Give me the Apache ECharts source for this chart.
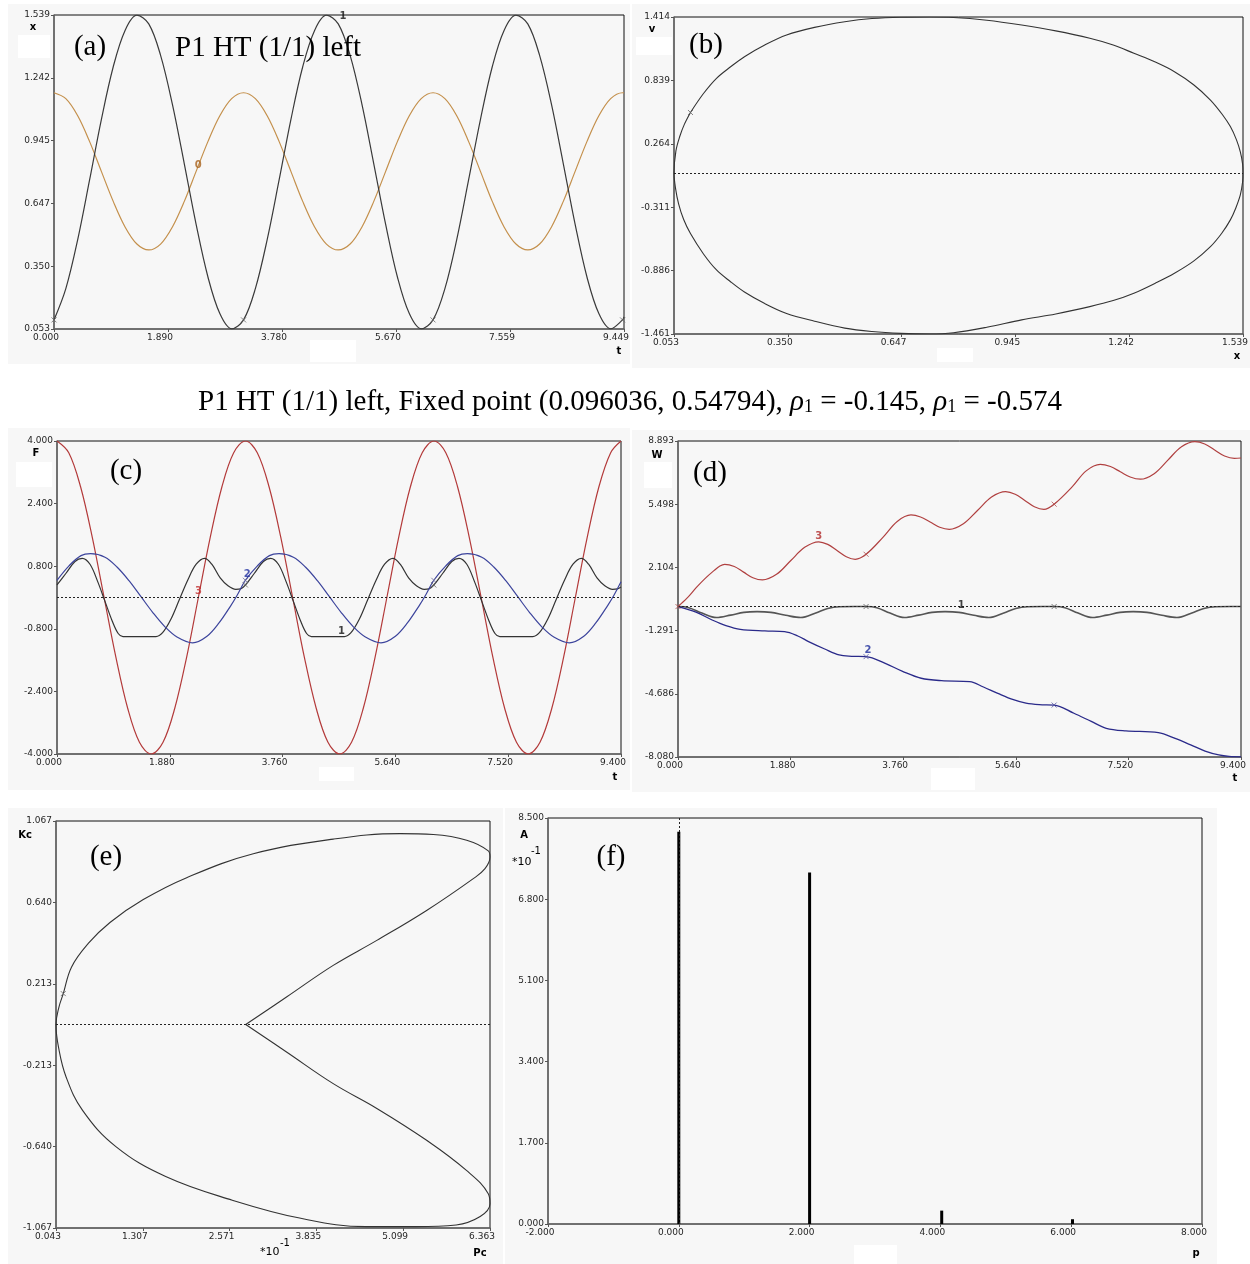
<!DOCTYPE html>
<html>
<head>
<meta charset="utf-8">
<script src="https://cdn.jsdelivr.net/npm/echarts@6/dist/echarts.min.js"></script>
<style>
  html, body { margin: 0; padding: 0; background: #ffffff; }
  #chart { width: 1250px; height: 1264px; }
</style>
</head>
<body>
<div id="chart"></div>
<script>
// ---------------- (a) displacement x(t) and excitation curve ----------------
const aT  = [0.000,0.196,0.393,0.589,0.785,0.982,1.178,1.374,1.571,1.767,1.963,2.160,2.356,2.553,2.749,2.945,
             3.142,3.338,3.534,3.731,3.927,4.123,4.320,4.516,4.712,4.909,5.105,5.301,5.498,5.694,5.890,6.087,
             6.283,6.480,6.676,6.872,7.069,7.265,7.461,7.658,7.854,8.050,8.247,8.443,8.639,8.836,9.032,9.228,
             9.425,9.449];
const aX  = [0.096,0.244,0.476,0.757,1.044,1.294,1.466,1.538,1.497,1.348,1.116,0.835,0.548,0.298,0.126,0.054,
             0.096,0.244,0.476,0.757,1.044,1.294,1.466,1.538,1.497,1.348,1.116,0.835,0.548,0.298,0.126,0.054,
             0.096,0.244,0.476,0.757,1.044,1.294,1.466,1.538,1.497,1.348,1.116,0.835,0.548,0.298,0.126,0.054,
             0.096,0.110];
const aT0 = [0.000,0.196,0.393,0.589,0.785,0.982,1.178,1.374,1.571,1.767,1.963,2.160,2.356,2.553,2.749,2.945,
             3.142,3.338,3.534,3.731,3.927,4.123,4.320,4.516,4.712,4.909,5.105,5.301,5.498,5.694,5.890,6.087,
             6.283,6.480,6.676,6.872,7.069,7.265,7.461,7.658,7.854,8.050,8.247,8.443,8.639,8.836,9.032,9.228,
             9.425,9.449];
const aX0 = [1.171,1.143,1.062,0.941,0.799,0.657,0.536,0.455,0.427,0.455,0.536,0.657,0.799,0.941,1.062,1.143,
             1.171,1.143,1.062,0.941,0.799,0.657,0.536,0.455,0.427,0.455,0.536,0.657,0.799,0.941,1.062,1.143,
             1.171,1.143,1.062,0.941,0.799,0.657,0.536,0.455,0.427,0.455,0.536,0.657,0.799,0.941,1.062,1.143,
             1.171,1.170];
const aSecT = [0.000, 3.142, 6.283, 9.425];
const aSecX = [0.096, 0.096, 0.096, 0.096];

// ---------------- (b) phase portrait v(x) ----------------
const bX = [0.096,0.130,0.164,0.200,0.237,0.290,0.347,0.420,0.499,0.570,0.646,0.720,0.783,0.870,0.961,1.050,1.139,1.200,1.254,1.310,1.360,1.410,1.454,1.485,1.506,1.522,1.532,1.538,1.539,
            1.538,1.532,1.520,1.506,1.484,1.454,1.410,1.360,1.310,1.254,1.200,1.139,1.050,0.961,0.870,0.783,0.720,0.646,0.570,0.499,0.420,0.347,0.290,0.237,0.200,0.164,0.130,0.096,0.078,0.065,0.057,0.053,
            0.058,0.068,0.080,0.096];
const bV = [0.548,0.720,0.858,0.960,1.054,1.160,1.251,1.320,1.371,1.400,1.412,1.414,1.410,1.385,1.341,1.288,1.221,1.160,1.085,1.005,0.918,0.800,0.661,0.530,0.420,0.300,0.190,0.080,0.000,
            -0.080,-0.200,-0.320,-0.426,-0.545,-0.669,-0.800,-0.910,-1.000,-1.091,-1.158,-1.213,-1.280,-1.333,-1.400,-1.450,-1.461,-1.455,-1.438,-1.408,-1.345,-1.275,-1.185,-1.080,-0.985,-0.880,-0.735,-0.550,-0.420,-0.280,-0.140,0.000,
            0.200,0.330,0.440,0.548];
const bFixed = [0.096036, 0.54794];

// ---------------- (c) forces F1, F2, F3 ----------------
const cT3 = [0.000,0.196,0.393,0.589,0.785,0.982,1.178,1.374,1.571,1.767,1.963,2.160,2.356,2.553,2.749,2.945,
             3.142,3.338,3.534,3.731,3.927,4.123,4.320,4.516,4.712,4.909,5.105,5.301,5.498,5.694,5.890,6.087,
             6.283,6.480,6.676,6.872,7.069,7.265,7.461,7.658,7.854,8.050,8.247,8.443,8.639,8.836,9.032,9.228,
             9.400];
const cF3 = [4.00,3.70,2.83,1.53,0.00,-1.53,-2.83,-3.70,-4.00,-3.70,-2.83,-1.53,0.00,1.53,2.83,3.70,
             4.00,3.70,2.83,1.53,0.00,-1.53,-2.83,-3.70,-4.00,-3.70,-2.83,-1.53,0.00,1.53,2.83,3.70,
             4.00,3.70,2.83,1.53,0.00,-1.53,-2.83,-3.70,-4.00,-3.70,-2.83,-1.53,0.00,1.53,2.83,3.70,
             4.00];
const cT2 = [0.00,0.20,0.40,0.56,0.80,1.00,1.20,1.40,1.60,1.80,2.00,2.26,2.50,2.70,2.90,3.00,
             3.14,3.34,3.54,3.70,3.94,4.14,4.34,4.54,4.74,4.94,5.14,5.40,5.64,5.84,6.04,6.14,
             6.28,6.48,6.68,6.84,7.08,7.28,7.48,7.68,7.88,8.08,8.28,8.54,8.78,8.98,9.18,9.28,9.40];
const cF2 = [0.44,0.81,1.07,1.12,1.03,0.78,0.43,0.02,-0.39,-0.75,-1.01,-1.16,-0.99,-0.65,-0.20,0.05,
             0.44,0.81,1.07,1.12,1.03,0.78,0.43,0.02,-0.39,-0.75,-1.01,-1.16,-0.99,-0.65,-0.20,0.05,
             0.44,0.81,1.07,1.12,1.03,0.78,0.43,0.02,-0.39,-0.75,-1.01,-1.16,-0.99,-0.65,-0.20,0.05,0.40];
const cT1 = [0.00,0.15,0.30,0.42,0.55,0.68,0.80,0.92,1.02,1.10,1.38,1.65,1.76,1.90,2.04,2.18,2.32,2.46,2.58,2.72,2.85,2.98,3.06,
             3.14,3.29,3.44,3.56,3.69,3.82,3.94,4.06,4.16,4.24,4.52,4.79,4.90,5.04,5.18,5.32,5.46,5.60,5.72,5.86,5.99,6.12,6.20,
             6.28,6.43,6.58,6.70,6.83,6.96,7.08,7.20,7.30,7.38,7.66,7.93,8.04,8.18,8.32,8.46,8.60,8.74,8.86,9.00,9.13,9.26,9.34,9.40];
const cF1 = [0.32,0.62,0.92,1.00,0.85,0.40,-0.10,-0.60,-0.92,-1.00,-1.00,-1.00,-0.90,-0.55,-0.05,0.45,0.85,1.00,0.85,0.50,0.30,0.21,0.22,
             0.32,0.62,0.92,1.00,0.85,0.40,-0.10,-0.60,-0.92,-1.00,-1.00,-1.00,-0.90,-0.55,-0.05,0.45,0.85,1.00,0.85,0.50,0.30,0.21,0.22,
             0.32,0.62,0.92,1.00,0.85,0.40,-0.10,-0.60,-0.92,-1.00,-1.00,-1.00,-0.90,-0.55,-0.05,0.45,0.85,1.00,0.85,0.50,0.30,0.21,0.22,0.27];
const cSecT  = [3.14, 6.28];
const cSecF2 = [0.44, 0.44];
const cSecF1 = [0.32, 0.32];

// ---------------- (d) work W1, W2, W3 ----------------
const dT3 = [0.00,0.15,0.30,0.45,0.60,0.70,0.78,0.94,1.095,1.25,1.41,1.645,1.88,2.115,2.35,2.50,2.655,2.81,2.96,3.14,
             3.425,3.66,3.89,4.05,4.21,4.37,4.53,4.765,5.00,5.235,5.47,5.63,5.79,5.95,6.11,6.28,
             6.58,6.815,7.05,7.22,7.385,7.55,7.72,7.95,8.175,8.40,8.63,8.795,8.96,9.125,9.29,9.40];
const dW3 = [0.00,0.45,1.00,1.50,1.93,2.18,2.27,2.15,1.85,1.55,1.43,1.73,2.46,3.18,3.48,3.34,3.01,2.68,2.54,2.81,
             3.73,4.57,4.92,4.81,4.54,4.26,4.15,4.45,5.16,5.88,6.17,6.03,5.70,5.36,5.22,5.50,
             6.43,7.29,7.64,7.52,7.24,6.96,6.84,7.14,7.85,8.57,8.86,8.73,8.41,8.09,7.96,7.98];
const dT1 = [0.00,0.18,0.40,0.64,0.88,1.10,1.32,1.55,1.80,2.05,2.30,2.50,2.70,2.95,
             3.14,3.32,3.54,3.78,4.02,4.24,4.46,4.69,4.94,5.19,5.44,5.64,5.84,6.09,
             6.28,6.46,6.68,6.92,7.16,7.38,7.60,7.83,8.08,8.33,8.58,8.78,8.98,9.23,9.40];
const dW1 = [0.00,-0.06,-0.35,-0.59,-0.46,-0.31,-0.27,-0.31,-0.47,-0.59,-0.34,-0.10,-0.01,0.00,
             0.00,-0.06,-0.35,-0.59,-0.46,-0.31,-0.27,-0.31,-0.47,-0.59,-0.34,-0.10,-0.01,0.00,
             0.00,-0.06,-0.35,-0.59,-0.46,-0.31,-0.27,-0.31,-0.47,-0.59,-0.34,-0.10,-0.01,0.00,0.00];
const dT2 = [0.00,0.30,0.57,0.80,1.04,1.45,1.78,2.00,2.18,2.45,2.69,2.90,3.14,3.46,3.75,4.06,4.40,4.87,5.10,5.34,5.60,5.81,6.03,6.28,6.61,6.90,7.15,7.48,8.02,8.30,8.56,8.80,9.03,9.20,9.40];
const dW2 = [0.00,-0.30,-0.72,-1.02,-1.22,-1.31,-1.35,-1.58,-1.88,-2.28,-2.60,-2.67,-2.69,-3.05,-3.48,-3.85,-3.98,-4.03,-4.32,-4.66,-5.00,-5.19,-5.27,-5.29,-5.73,-6.17,-6.54,-6.68,-6.77,-7.08,-7.43,-7.76,-7.97,-8.05,-8.07];
const dSecT  = [0.00, 3.14, 6.28];
const dSecW3 = [0.00, 2.81, 5.50];
const dSecW1 = [0.00, 0.00, 0.00];
const dSecW2 = [0.00, -2.69, -5.29];

// ---------------- (e) Kc versus Pc ----------------
const eP = [2.806,3.40,4.08,4.715,5.44,6.12,6.29,6.363,6.338,6.024,5.538,5.052,4.081,2.916,1.946,1.314,0.829,0.513,0.270,0.149,0.085,
            0.043,0.080,0.190,0.430,0.915,1.640,2.610,3.590,4.560,5.290,5.870,6.220,6.363,6.338,6.020,5.440,4.715,4.080,3.400,2.806];
const eK = [0.000,0.144,0.310,0.441,0.598,0.765,0.817,0.878,0.910,0.966,0.996,1.001,0.972,0.895,0.770,0.655,0.535,0.425,0.302,0.162,0.090,
            0.000,-0.120,-0.275,-0.450,-0.640,-0.797,-0.921,-1.015,-1.060,-1.060,-1.051,-1.007,-0.940,-0.888,-0.765,-0.607,-0.440,-0.310,-0.144,0.000];
const eMark = [0.149, 0.162];

// ---------------- (f) amplitude spectrum ----------------
const fP = [0.00, 2.00, 4.02, 6.02];
const fA = [8.21, 7.36, 0.28, 0.10];

// ---------------- tick labels ----------------
const aTicksX = ['0.000','1.890','3.780','5.670','7.559','9.449'];
const aTicksY = ['0.053','0.350','0.647','0.945','1.242','1.539'];
const bTicksX = ['0.053','0.350','0.647','0.945','1.242','1.539'];
const bTicksY = ['-1.461','-0.886','-0.311','0.264','0.839','1.414'];
const cTicksX = ['0.000','1.880','3.760','5.640','7.520','9.400'];
const cTicksY = ['-4.000','-2.400','-0.800','0.800','2.400','4.000'];
const dTicksX = ['0.000','1.880','3.760','5.640','7.520','9.400'];
const dTicksY = ['-8.080','-4.686','-1.291','2.104','5.498','8.893'];
const eTicksX = ['0.043','1.307','2.571','3.835','5.099','6.363'];
const eTicksY = ['-1.067','-0.640','-0.213','0.213','0.640','1.067'];
const fTicksX = ['-2.000','0.000','2.000','4.000','6.000','8.000'];
const fTicksY = ['0.000','1.700','3.400','5.100','6.800','8.500'];

// ---------------- helpers ----------------
const zip = (xs, ys) => xs.map((x, i) => [x, ys[i]]);

const grids = [
  { left: 54,  top: 15,  width: 570, height: 314 },
  { left: 674, top: 17,  width: 569, height: 317 },
  { left: 57,  top: 441, width: 564, height: 313 },
  { left: 678, top: 441, width: 563, height: 316 },
  { left: 56,  top: 821, width: 434, height: 407 },
  { left: 548, top: 818, width: 654, height: 406 }
].map(g => Object.assign(g, {
  show: true, borderColor: '#111', borderWidth: 1, backgroundColor: 'transparent',
  containLabel: false, outerBoundsMode: 'none'
}));

function axis(gi, ticks, isX) {
  const min = parseFloat(ticks[0]);
  const max = parseFloat(ticks[ticks.length - 1]);
  const step = (max - min) / (ticks.length - 1);
  return {
    type: 'value', gridIndex: gi, min: min, max: max, interval: step,
    axisLine: { show: true, onZero: false, lineStyle: { color: '#6b6b6b', width: 1.5 } },
    axisTick: { show: true, length: 3, inside: false, lineStyle: { color: '#555', width: 1 } },
    splitLine: { show: false },
    axisLabel: {
      show: true, fontFamily: 'DejaVu Sans', fontSize: 9, color: '#262626', margin: 4,
      hideOverlap: false,
      // value labels under the abscissa axes sit a little left of their ticks
      padding: isX ? [0, 16, 0, 0] : 0,
      formatter: v => { const s = ticks[Math.round((v - min) / step)]; return s === undefined ? '' : s; }
    }
  };
}

function curve(gi, xs, ys, color, width, smooth) {
  return {
    type: 'line', xAxisIndex: gi, yAxisIndex: gi, data: zip(xs, ys),
    showSymbol: false, symbol: 'none', smooth: smooth, silent: true, z: 3,
    lineStyle: { color: color, width: width }
  };
}

const crossPath = 'path://M0,0L10,10M10,0L0,10';
function marks(gi, xs, ys, color) {
  return {
    type: 'scatter', xAxisIndex: gi, yAxisIndex: gi, data: zip(xs, ys), silent: true, z: 5,
    symbol: crossPath, symbolSize: 5,
    itemStyle: { color: 'rgba(0,0,0,0)', borderColor: color, borderWidth: 1 }
  };
}

function tag(gi, x, y, text, color) {
  return {
    type: 'scatter', xAxisIndex: gi, yAxisIndex: gi, silent: true, z: 6,
    symbolSize: 1, itemStyle: { color: 'rgba(0,0,0,0)' },
    data: [{ name: text, value: [x, y] }],
    label: { show: true, position: 'inside', formatter: '{b}', fontFamily: 'DejaVu Sans',
             fontWeight: 'bold', fontSize: 10, color: color }
  };
}

function zeroLine(gi, horizontal) {
  return {
    type: 'line', xAxisIndex: gi, yAxisIndex: gi, data: [], silent: true, z: 2,
    markLine: {
      silent: true, symbol: 'none', animation: false, label: { show: false },
      lineStyle: { color: '#222', width: 1, type: [2, 2] },
      data: [horizontal ? { yAxis: 0 } : { xAxis: 0 }]
    }
  };
}

// ---------------- panels: backgrounds and texts ----------------
const panelRects = [
  [8, 4, 622, 360], [632, 4, 618, 364], [8, 428, 622, 362],
  [632, 430, 618, 362], [8, 808, 495, 456], [505, 808, 712, 456]
];
const whitePatches = [
  [18, 35, 32, 23], [636, 37, 36, 18], [16, 462, 36, 25], [644, 462, 28, 26],
  [310, 340, 46, 22], [937, 348, 36, 14], [319, 767, 35, 14], [931, 768, 44, 22], [854, 1245, 43, 19]
];

const serif = '"Liberation Serif", "Times New Roman", serif';
const graphics = [];
panelRects.forEach(r => graphics.push({
  type: 'rect', z: -10, silent: true,
  shape: { x: r[0], y: r[1], width: r[2], height: r[3] }, style: { fill: '#f7f7f7' }
}));
whitePatches.forEach(r => graphics.push({
  type: 'rect', z: -9, silent: true,
  shape: { x: r[0], y: r[1], width: r[2], height: r[3] }, style: { fill: '#ffffff' }
}));

function text(str, x, y, font, align, extra) {
  graphics.push({
    type: 'text', x: x, y: y, z: 50, silent: true,
    style: Object.assign({ text: str, font: font, fill: '#000', align: align || 'center', verticalAlign: 'middle' }, extra || {})
  });
}

// panel letters
text('(a)', 90, 47, '29px ' + serif);
text('(b)', 706, 45, '29px ' + serif);
text('(c)', 126, 471, '29px ' + serif);
text('(d)', 710, 473, '29px ' + serif);
text('(e)', 106, 857, '29px ' + serif);
text('(f)', 611, 857, '29px ' + serif);
text('P1 HT (1/1) left', 175, 48, '29px ' + serif, 'left');

// caption between the rows
text('P1 HT (1/1) left, Fixed point (0.096036, 0.54794), {i|ρ}{s|1} = -0.145, {i|ρ}{s|1} = -0.574',
     630, 402, '29px ' + serif, 'center', {
  rich: {
    i: { fontFamily: 'Liberation Serif', fontSize: 29, fontStyle: 'italic' },
    s: { fontFamily: 'Liberation Serif', fontSize: 18, verticalAlign: 'bottom', lineHeight: 18 }
  }
});

// axis names
const nameFont = 'bold 10px "DejaVu Sans"';
[['x', 33, 27], ['t', 619, 351], ['v', 652, 29], ['x', 1237, 356],
 ['F', 36, 453], ['t', 615, 777], ['W', 657, 455], ['t', 1235, 778],
 ['Kc', 25, 835], ['Pc', 480, 1253], ['A', 524, 835], ['p', 1196, 1253]]
  .forEach(n => text(n[0], n[1], n[2], nameFont));

// power-of-ten factors of the Pc and A axes
text('*10', 260, 1252, '11px "DejaVu Sans"', 'left');
text('-1', 280, 1243, '10px "DejaVu Sans"', 'left');
text('*10', 512, 862, '11px "DejaVu Sans"', 'left');
text('-1', 531, 851, '10px "DejaVu Sans"', 'left');

// ---------------- series ----------------
const S = 0.35;   // spline tension for the sampled curves
const series = [
  // (a)
  curve(0, aT0, aX0, '#c4904c', 1.2, S),
  curve(0, aT, aX, '#3a3a3a', 1.2, S),
  marks(0, aSecT, aSecX, '#666'),
  tag(0, 2.39, 0.829, '0', '#a8621c'),
  tag(0, 4.79, 1.53, '1', '#111'),
  // (b)
  zeroLine(1, true),
  curve(1, bX, bV, '#333', 1.1, S),
  marks(1, [bFixed[0]], [bFixed[1]], '#666'),
  // (c)
  zeroLine(2, true),
  curve(2, cT3, cF3, '#b33a3a', 1.2, S),
  curve(2, cT1, cF1, '#333', 1.2, S),
  curve(2, cT2, cF2, '#3c449c', 1.2, S),
  marks(2, cSecT, cSecF2, '#6a6a9a'),
  marks(2, cSecT, cSecF1, '#666'),
  tag(2, 2.36, 0.16, '3', '#c03030'),
  tag(2, 3.17, 0.60, '2', '#2030a0'),
  tag(2, 4.74, -0.86, '1', '#111'),
  // (d)
  zeroLine(3, true),
  curve(3, dT3, dW3, '#b04040', 1.2, S),
  curve(3, dT1, dW1, '#555', 1.6, S),
  curve(3, dT2, dW2, '#2a2a8a', 1.3, S),
  marks(3, dSecT, dSecW3, '#b05050'),
  marks(3, dSecT.slice(1), dSecW1.slice(1), '#555'),
  marks(3, dSecT.slice(1), dSecW2.slice(1), '#5050a0'),
  tag(3, 2.35, 3.79, '3', '#b02828'),
  tag(3, 3.17, -2.33, '2', '#1a2a9a'),
  tag(3, 4.73, 0.05, '1', '#111'),
  // (e)
  zeroLine(4, true),
  curve(4, eP, eK, '#333', 1.1, 0.4),
  marks(4, [eMark[0]], [eMark[1]], '#666'),
  // (f)
  zeroLine(5, false),
  {
    type: 'bar', xAxisIndex: 5, yAxisIndex: 5, data: zip(fP, fA), barWidth: 3, silent: true, z: 3,
    itemStyle: { color: '#000' }
  }
];

const chart = echarts.init(document.getElementById('chart'), null, { renderer: 'canvas' });
chart.setOption({
  animation: false,
  backgroundColor: '#ffffff',
  grid: grids,
  xAxis: [axis(0, aTicksX, true), axis(1, bTicksX, true), axis(2, cTicksX, true),
          axis(3, dTicksX, true), axis(4, eTicksX, true), axis(5, fTicksX, true)],
  yAxis: [axis(0, aTicksY), axis(1, bTicksY), axis(2, cTicksY),
          axis(3, dTicksY), axis(4, eTicksY), axis(5, fTicksY)],
  graphic: { elements: graphics },
  series: series
});
</script>
</body>
</html>
